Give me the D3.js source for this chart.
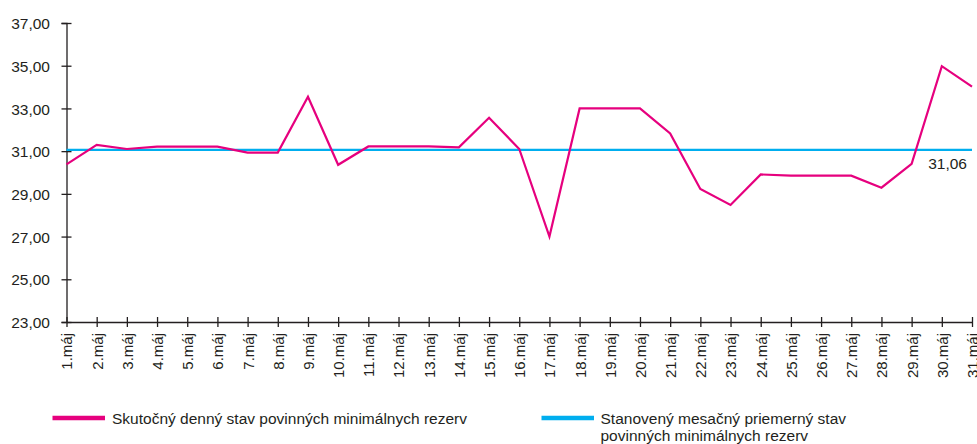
<!DOCTYPE html>
<html>
<head>
<meta charset="utf-8">
<script src="https://cdn.jsdelivr.net/npm/d3@7"></script>
<style>
  body { margin: 0; background: #fff; }
  svg text { font-family: "Liberation Sans", Arial, Helvetica, sans-serif; fill: #231f20; }
</style>
</head>
<body>
<div id="chart"></div>
<script>
// Data;
const days = d3.range(1, 32).map(function(d){ return d + ".máj"; });
const dailyReserve = [30.38, 31.29, 31.10, 31.21, 31.21, 31.21, 30.93, 30.93, 33.55, 30.36,
                      31.22, 31.22, 31.22, 31.18, 32.56, 31.10, 27.00, 33.00, 33.00, 33.00,
                      31.83, 29.23, 28.48, 29.91, 29.85, 29.85, 29.85, 29.29, 30.41, 34.98, 34.02];
const monthlyAvg = 31.06;
const yTicks = [23, 25, 27, 29, 31, 33, 35, 37];
const legendLabels = ["Skutočný denný stav povinných minimálnych rezerv",
                      ["Stanovený mesačný priemerný stav", "povinných minimálnych rezerv"]];

//Size;
const w = 977, h = 444;
const pink = "#e6007e", blue = "#00aeef", ink = "#231f20";

const svg = d3.select("#chart")
              .append("svg")
                .attr("width", w)
                .attr("height", h);

//Scales;
const x = d3.scalePoint()
            .domain(days)
            .range([66.5, 972]);

const y = d3.scaleLinear()
            .domain([23, 37])
            .range([322, 23]);

const fmt = function(v){ return d3.format(".2f")(v).replace(".", ","); };

//Y axis;
const yAxis = svg.append("g")
                 .attr("transform", "translate(" + x(days[0]) + ",0)")
                 .call(d3.axisLeft(y).tickValues(yTicks).tickFormat(fmt).tickSize(5).tickPadding(11.5));
yAxis.select(".domain").attr("stroke", ink).attr("stroke-width", 1.3);
yAxis.selectAll(".tick line").attr("x1", -5).attr("x2", 5).attr("stroke", ink).attr("stroke-width", 1.3);
yAxis.selectAll(".tick text").attr("font-size", "15.5px").attr("fill", ink).attr("dy", "0.36em");

//X axis;
const xAxis = svg.append("g")
                 .attr("transform", "translate(0," + y(23) + ")")
                 .call(d3.axisBottom(x).tickSize(5).tickSizeOuter(0));
xAxis.select(".domain").attr("stroke", ink).attr("stroke-width", 1.3);
xAxis.selectAll(".tick line").attr("y1", -5).attr("y2", 5).attr("stroke", ink).attr("stroke-width", 1.3);
xAxis.selectAll(".tick text")
     .attr("font-size", "15px")
     .attr("fill", ink)
     .attr("text-anchor", "end")
     .attr("transform", "rotate(-90)")
     .attr("x", -11)
     .attr("y", 0)
     .attr("dy", "0.36em");

//Average line;
svg.append("line")
   .attr("x1", x(days[0]))
   .attr("x2", x(days[days.length - 1]))
   .attr("y1", y(monthlyAvg))
   .attr("y2", y(monthlyAvg))
   .attr("stroke", blue)
   .attr("stroke-width", 2.2);

svg.append("text")
   .attr("x", 967)
   .attr("y", y(monthlyAvg) + 19.5)
   .attr("text-anchor", "end")
   .attr("font-size", "15.5px")
   .text(fmt(monthlyAvg));

//Daily line;
const line = d3.line()
               .x(function(d, i){ return x(days[i]); })
               .y(function(d){ return y(d); });

svg.append("path")
   .datum(dailyReserve)
   .attr("d", line)
   .attr("fill", "none")
   .attr("stroke", pink)
   .attr("stroke-width", 2.2)
   .attr("stroke-linejoin", "miter");

//Legend;
const leg = svg.append("g");
leg.append("line")
   .attr("x1", 52.5).attr("x2", 105)
   .attr("y1", 418).attr("y2", 418)
   .attr("stroke", pink).attr("stroke-width", 4.3);
leg.append("text")
   .attr("x", 112).attr("y", 423.5)
   .attr("font-size", "15.5px")
   .text(legendLabels[0]);

leg.append("line")
   .attr("x1", 541.5).attr("x2", 594)
   .attr("y1", 418).attr("y2", 418)
   .attr("stroke", blue).attr("stroke-width", 4.3);
leg.append("text")
   .attr("x", 600.5).attr("y", 423.5)
   .attr("font-size", "15.5px")
   .selectAll("tspan")
   .data(legendLabels[1])
   .enter()
 .append("tspan")
   .attr("x", 600.5)
   .attr("dy", function(d, i){ return i ? 17.5 : 0; })
   .text(function(d){ return d; });
</script>
</body>
</html>
